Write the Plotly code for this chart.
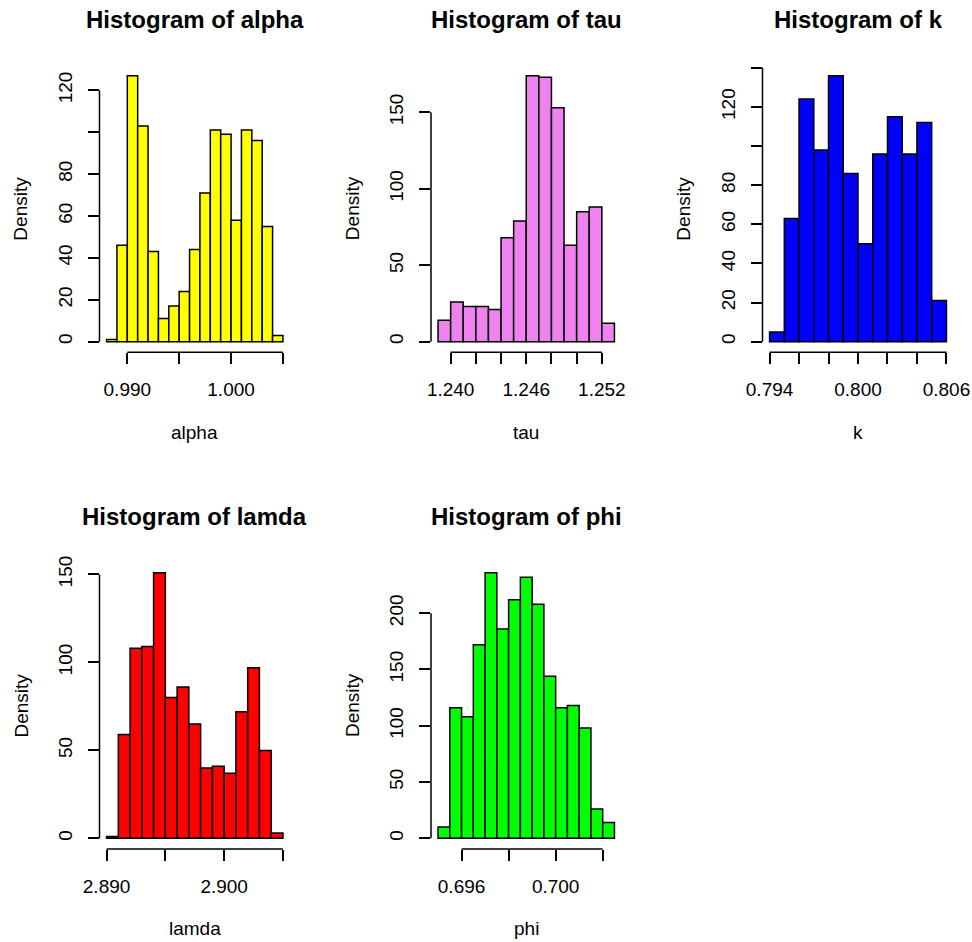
import numpy as np
import plotly.graph_objects as go

# Figure size in pixels
W, H = 972, 942
FONT = "Liberation Sans"
TICK_SIZE = 19
TITLE_SIZE = 24

# ---- Histogram densities (bin start, bin width, densities) ----
alpha_start, alpha_width = 0.988, 0.001
alpha_density = [1, 46, 127, 103, 43, 11, 17, 24, 44, 71, 101, 99, 58, 101, 96, 55, 3]

tau_start, tau_width = 1.239, 0.001
tau_density = [14, 26, 23, 23, 21, 68, 79, 174, 173, 153, 63, 85, 88, 12]

k_start, k_width = 0.794, 0.001
k_density = [5, 63, 124, 98, 136, 86, 50, 96, 115, 96, 112, 21]

lamda_start, lamda_width = 2.890, 0.001
lamda_density = [1, 59, 108, 109, 151, 80, 86, 65, 40, 41, 37, 72, 97, 50, 3]

phi_start, phi_width = 0.695, 0.0005
phi_density = [10, 116, 108, 172, 236, 186, 212, 232, 208, 144, 116, 118, 98, 26, 14]

# ---- Tick positions and labels (blank labels are suppressed by overlap) ----
alpha_xticks = [0.990, 0.995, 1.000, 1.005]
alpha_xlabels = ["0.990", "", "1.000", ""]
alpha_yticks = [0, 20, 40, 60, 80, 100, 120]
alpha_ylabels = ["0", "20", "40", "60", "80", "", "120"]

tau_xticks = [1.240, 1.242, 1.244, 1.246, 1.248, 1.250, 1.252]
tau_xlabels = ["1.240", "", "", "1.246", "", "", "1.252"]
tau_yticks = [0, 50, 100, 150]
tau_ylabels = ["0", "50", "100", "150"]

k_xticks = [0.794, 0.796, 0.798, 0.800, 0.802, 0.804, 0.806]
k_xlabels = ["0.794", "", "", "0.800", "", "", "0.806"]
k_yticks = [0, 20, 40, 60, 80, 100, 120, 140]
k_ylabels = ["0", "20", "40", "60", "80", "", "120", ""]

lamda_xticks = [2.890, 2.895, 2.900, 2.905]
lamda_xlabels = ["2.890", "", "2.900", ""]
lamda_yticks = [0, 50, 100, 150]
lamda_ylabels = ["0", "50", "100", "150"]

phi_xticks = [0.696, 0.698, 0.700, 0.702]
phi_xlabels = ["0.696", "", "0.700", ""]
phi_yticks = [0, 50, 100, 150, 200]
phi_ylabels = ["0", "50", "100", "150", "200"]

panels = [
    dict(name="alpha", color="#FFFF00", start=alpha_start, width=alpha_width, dens=alpha_density,
         xt=alpha_xticks, xl=alpha_xlabels, yt=alpha_yticks, yl=alpha_ylabels,
         box=(99.5, 65, 290, 352.3)),
    dict(name="tau", color="#EE82EE", start=tau_start, width=tau_width, dens=tau_density,
         xt=tau_xticks, xl=tau_xlabels, yt=tau_yticks, yl=tau_ylabels,
         box=(431, 65, 621.5, 352.3)),
    dict(name="k", color="#0000FF", start=k_start, width=k_width, dens=k_density,
         xt=k_xticks, xl=k_xlabels, yt=k_yticks, yl=k_ylabels,
         box=(762.5, 65, 953.5, 352.3)),
    dict(name="lamda", color="#FF0000", start=lamda_start, width=lamda_width, dens=lamda_density,
         xt=lamda_xticks, xl=lamda_xlabels, yt=lamda_yticks, yl=lamda_ylabels,
         box=(99.5, 562, 290, 849)),
    dict(name="phi", color="#00FF00", start=phi_start, width=phi_width, dens=phi_density,
         xt=phi_xticks, xl=phi_xlabels, yt=phi_yticks, yl=phi_ylabels,
         box=(431, 562, 621.5, 849)),
]

fig = go.Figure()
layout = dict(
    template="none",
    width=W, height=H, autosize=False, margin=dict(l=0, r=0, t=0, b=0, pad=0),
    paper_bgcolor="white", plot_bgcolor="rgba(0,0,0,0)",
    showlegend=False, font=dict(family=FONT, color="black"),
)
shapes, annotations = [], []


def px_x(p):
    return p / W


def px_y(p):
    return 1 - p / H


for i, p in enumerate(panels, start=1):
    dens = np.asarray(p["dens"], dtype=float)
    edges = p["start"] + p["width"] * np.arange(len(dens) + 1)
    centers = (edges[:-1] + edges[1:]) / 2

    # axis ranges padded by 4% like base graphics
    x0, x1 = edges[0], edges[-1]
    xpad = 0.04 * (x1 - x0)
    xr = [x0 - xpad, x1 + xpad]
    ymax = dens.max()
    yr = [-0.04 * ymax, 1.04 * ymax]

    L, T, R, B = p["box"]
    xa = "xaxis" if i == 1 else f"xaxis{i}"
    ya = "yaxis" if i == 1 else f"yaxis{i}"
    xid = "x" if i == 1 else f"x{i}"
    yid = "y" if i == 1 else f"y{i}"

    fig.add_trace(go.Bar(
        x=centers, y=dens, width=p["width"], offset=-p["width"] / 2,
        marker=dict(color=p["color"], line=dict(color="black", width=1.5)),
        xaxis=xid, yaxis=yid, hoverinfo="x+y",
    ))

    layout[xa] = dict(
        domain=[px_x(L), px_x(R)], range=xr, anchor=yid, automargin=False,
        showgrid=False, zeroline=False, showline=False,
        tickmode="array", tickvals=p["xt"], ticktext=p["xl"],
        ticks="outside", ticklen=11, tickwidth=1.5, tickcolor="black",
        tickfont=dict(family=FONT, size=TICK_SIZE, color="black"),
        ticklabelstandoff=9,
    )
    layout[ya] = dict(
        domain=[px_y(B), px_y(T)], range=yr, anchor=xid, automargin=False,
        showgrid=False, zeroline=False, showline=False,
        tickmode="array", tickvals=p["yt"], ticktext=p["yl"],
        ticks="outside", ticklen=11, tickwidth=1.5, tickcolor="black",
        tickangle=-90,
        tickfont=dict(family=FONT, size=TICK_SIZE, color="black"),
        ticklabelstandoff=8,
    )

    # axis lines spanning only the tick range
    def dx(v):
        return px_x(L + (v - xr[0]) / (xr[1] - xr[0]) * (R - L))

    def dy(v):
        return px_y(B - (v - yr[0]) / (yr[1] - yr[0]) * (B - T))

    shapes.append(dict(type="line", xref="paper", yref="paper",
                       x0=dx(p["xt"][0]), x1=dx(p["xt"][-1]), y0=px_y(B), y1=px_y(B),
                       line=dict(color="black", width=1.5)))
    shapes.append(dict(type="line", xref="paper", yref="paper",
                       x0=px_x(L), x1=px_x(L), y0=dy(p["yt"][0]), y1=dy(p["yt"][-1]),
                       line=dict(color="black", width=1.5)))

    # main title, x label, y label
    annotations.append(dict(
        text=f"<b>Histogram of {p['name']}</b>", xref="paper", yref="paper",
        x=px_x((L + R) / 2), y=px_y(T - 38.3 - 0.32 * TITLE_SIZE),
        xanchor="center", yanchor="middle", showarrow=False,
        font=dict(family=FONT, size=TITLE_SIZE, color="black"),
    ))
    annotations.append(dict(
        text=p["name"], xref="paper", yref="paper",
        x=px_x((L + R) / 2), y=px_y(B + 86 - 0.32 * TICK_SIZE),
        xanchor="center", yanchor="middle", showarrow=False,
        font=dict(family=FONT, size=TICK_SIZE, color="black"),
    ))
    annotations.append(dict(
        text="Density", xref="paper", yref="paper", textangle=-90,
        x=px_x(L - 78.5), y=px_y((T + B) / 2),
        xanchor="center", yanchor="middle", showarrow=False,
        font=dict(family=FONT, size=TICK_SIZE, color="black"),
    ))

layout["shapes"] = shapes
layout["annotations"] = annotations
fig.update_layout(**layout)

fig.write_html("out.html")
